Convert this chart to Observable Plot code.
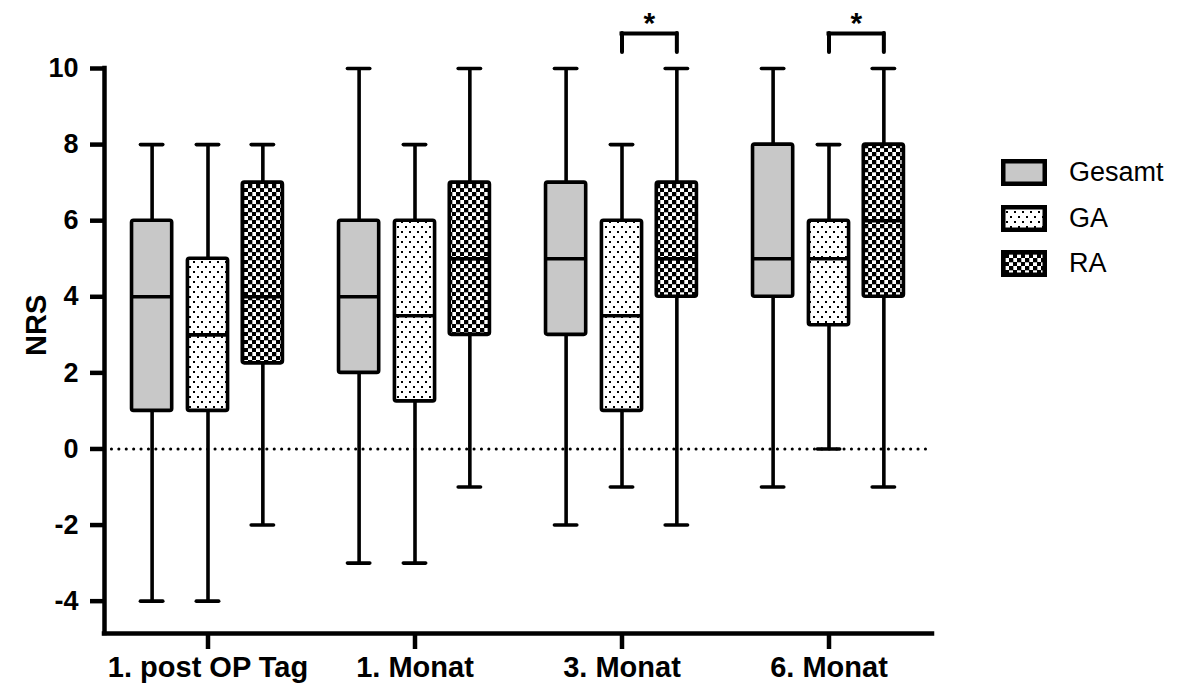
<!DOCTYPE html>
<html>
<head>
<meta charset="utf-8">
<script src="https://cdn.jsdelivr.net/npm/d3@7"></script>
<script src="https://cdn.jsdelivr.net/npm/@observablehq/plot@0.6"></script>
<style>
  html, body { margin: 0; padding: 0; background: white; }
  #wrap { position: relative; width: 1189px; height: 700px; font-family: Arial, "Liberation Sans", sans-serif; }
  #legend { position: absolute; left: 1001px; top: 150px; }
  .item { display: flex; align-items: center; height: 45.5px; }
  .item span { font-size: 27px; margin-left: 22px; color: #000; }
</style>
</head>
<body>
<svg width="0" height="0" style="position:absolute">
  <defs>
    <pattern id="dots" width="8" height="10" patternUnits="userSpaceOnUse">
      <rect width="8" height="10" fill="white"/>
      <rect x="1" y="1" width="2" height="2" fill="black"/>
      <rect x="5" y="6" width="2" height="2" fill="black"/>
    </pattern>
    <pattern id="checker" width="8" height="8" patternUnits="userSpaceOnUse">
      <rect width="8" height="8" fill="white"/>
      <rect x="0" y="0" width="4.3" height="4.3" fill="black"/>
      <rect x="4" y="4" width="4.3" height="4.3" fill="black"/>
    </pattern>
  </defs>
</svg>
<div id="wrap"><div id="chart"></div><div id="legend"></div></div>
<script>
// ---- data ----
const groups = ["1. post OP Tag", "1. Monat", "3. Monat", "6. Monat"];
const series = ["Gesamt", "GA", "RA"];
// rows = groups, columns = series (Gesamt, GA, RA)
const whiskerLow  = [[-4, -4, -2], [-3, -3, -1], [-2, -1, -2], [-1, 0, -1]];
const quartile1   = [[1, 1, 2.25], [2, 1.25, 3], [3, 1, 4], [4, 3.25, 4]];
const medians     = [[4, 3, 4], [4, 3.5, 5], [5, 3.5, 5], [5, 5, 6]];
const quartile3   = [[6, 5, 7], [6, 6, 7], [7, 6, 7], [8, 6, 8]];
const whiskerHigh = [[8, 8, 8], [10, 8, 10], [10, 8, 10], [10, 8, 10]];
const significance = [
  {group: "3. Monat", from: "GA", to: "RA", label: "*"},
  {group: "6. Monat", from: "GA", to: "RA", label: "*"}
];
const yTicks = [-4, -2, 0, 2, 4, 6, 8, 10];

// ---- layout constants ----
const seriesOffset = {Gesamt: -0.27, GA: 0, RA: 0.265};
const fills = {Gesamt: "#c8c8c8", GA: "url(#dots)", RA: "url(#checker)"};
const boxHalf = 0.097;
const capHalf = 0.054;
const yMin = -4.85, yMax = 10;
const bracketTop = 10.92, bracketBottom = 10.42, starY = 11.18;

const rows = [];
groups.forEach((g, gi) => series.forEach((s, si) => rows.push({
  group: g, series: s, pos: gi + seriesOffset[s],
  lo: whiskerLow[gi][si], q1: quartile1[gi][si], med: medians[gi][si],
  q3: quartile3[gi][si], hi: whiskerHigh[gi][si]
})));
const sig = significance.map(d => {
  const gi = groups.indexOf(d.group);
  return {...d, x1: gi + seriesOffset[d.from], x2: gi + seriesOffset[d.to], xm: gi + (seriesOffset[d.from] + seriesOffset[d.to]) / 2};
});
const caps = rows.flatMap(d => [{pos: d.pos, y: d.lo}, {pos: d.pos, y: d.hi}]);

const bold = {fontWeight: "bold", fill: "black"};
const lw = 3.6;

const plot = Plot.plot({
  width: 960, height: 700,
  marginLeft: 104, marginRight: 28, marginTop: 68, marginBottom: 67,
  style: {fontFamily: "Arial, 'Liberation Sans', sans-serif", background: "white", color: "black", overflow: "visible"},
  x: {type: "linear", domain: [-0.5, 3.5]},
  y: {domain: [yMin, yMax]},
  marks: [
    Plot.ruleY([0], {stroke: "black", strokeWidth: 3, strokeDasharray: "0.1 7.3", strokeLinecap: "round"}),
    // whiskers
    Plot.ruleX(rows, {x: "pos", y1: "lo", y2: "hi", stroke: "black", strokeWidth: lw}),
    Plot.ruleY(caps, {y: "y", x1: d => d.pos - capHalf, x2: d => d.pos + capHalf, stroke: "black", strokeWidth: lw, strokeLinecap: "round"}),
    // boxes
    ...series.map(s => Plot.rect(rows.filter(d => d.series === s), {
      x1: d => d.pos - boxHalf, x2: d => d.pos + boxHalf, y1: "q1", y2: "q3",
      fill: fills[s], stroke: "black", strokeWidth: lw, strokeLinejoin: "round", rx: 2
    })),
    Plot.ruleY(rows, {y: "med", x1: d => d.pos - boxHalf, x2: d => d.pos + boxHalf, stroke: "black", strokeWidth: lw}),
    // significance brackets
    Plot.ruleY(sig, {y: () => bracketTop, x1: "x1", x2: "x2", stroke: "black", strokeWidth: 4, strokeLinecap: "square"}),
    Plot.ruleX(sig, {x: "x1", y1: () => bracketTop, y2: () => bracketBottom, stroke: "black", strokeWidth: 4, strokeLinecap: "round"}),
    Plot.ruleX(sig, {x: "x2", y1: () => bracketTop, y2: () => bracketBottom, stroke: "black", strokeWidth: 4, strokeLinecap: "round"}),
    Plot.text(sig, {x: "xm", y: () => starY, text: "label", ...bold, fontSize: 30}),
    // axes
    Plot.axisY({ticks: yTicks, tickFormat: d => String(d), tickSize: 14, tickPadding: 12, strokeWidth: 4.5, ...bold, fontSize: 27, label: null}),
    Plot.axisX({ticks: [0, 1, 2, 3], tickFormat: i => groups[i], tickSize: 16, tickPadding: 7, strokeWidth: 4.5, ...bold, fontSize: 29, label: null}),
    Plot.ruleX([-0.5], {y1: () => yMax, y2: () => yMin, stroke: "black", strokeWidth: 4.5, strokeLinecap: "square"}),
    Plot.ruleY([yMin], {stroke: "black", strokeWidth: 4.5, strokeLinecap: "square"}),
    Plot.text(["NRS"], {frameAnchor: "left", dx: -68, dy: 5, rotate: -90, text: d => d, ...bold, fontSize: 29})
  ]
});
document.getElementById("chart").appendChild(plot);

// legend
const legend = document.getElementById("legend");
series.forEach(s => {
  const item = document.createElement("div");
  item.className = "item";
  item.innerHTML = `<svg width="46" height="27"><rect x="2.25" y="2.25" width="41.5" height="22.5" fill="${fills[s]}" stroke="black" stroke-width="4.5"/></svg><span>${s}</span>`;
  legend.appendChild(item);
});
</script>
</body>
</html>
